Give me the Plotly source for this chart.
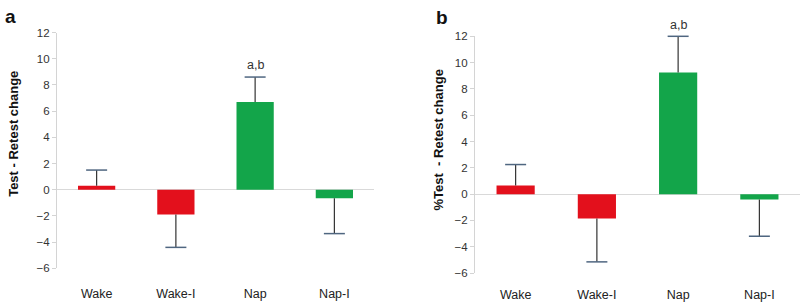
import plotly.graph_objects as go

categories = ["Wake", "Wake-I", "Nap", "Nap-I"]
bar_colors = ["#e3101c", "#e3101c", "#13a54a", "#13a54a"]

# Panel a: Test - Retest change
a_values = [0.3, -1.9, 6.7, -0.65]
a_errors = [1.2, 2.5, 1.9, 2.7]
# Panel b: % Test - Retest change
b_values = [0.65, -1.85, 9.25, -0.4]
b_errors = [1.6, 3.3, 2.75, 2.8]

sig_label = "a,b"
a_sig_y = 9.5

y_ticks = [-6, -4, -2, 0, 2, 4, 6, 8, 10, 12]

STEM = "#333333"
CAP = "#4f6680"

fig = go.Figure()

def add_panel(vals, errs, xa, ya):
    fig.add_trace(go.Bar(x=categories, y=vals, marker=dict(color=bar_colors, line=dict(width=0)),
                         width=0.47, xaxis=xa, yaxis=ya, showlegend=False))
    sx, sy, cx, cy = [], [], [], []
    for c, v, e in zip(categories, vals, errs):
        tip = v + e if v >= 0 else v - e
        sx += [c, c, None]
        sy += [v, tip, None]
        cx.append(c)
        cy.append(tip)
    fig.add_trace(go.Scatter(x=sx, y=sy, mode="lines", line=dict(color=STEM, width=1.2),
                             xaxis=xa, yaxis=ya, showlegend=False, cliponaxis=False))
    fig.add_trace(go.Scatter(x=cx, y=cy, mode="markers",
                             marker=dict(symbol="line-ew", size=15, line=dict(color=CAP, width=1.5)),
                             xaxis=xa, yaxis=ya, showlegend=False, cliponaxis=False))

add_panel(a_values, a_errors, "x", "y")
add_panel(b_values, b_errors, "x2", "y2")

tickfont = dict(family="Liberation Sans, Arial", size=11.5, color="#333333")
catfont = dict(family="Liberation Sans, Arial", size=12.5, color="#222222")

xcommon = dict(showline=False, showgrid=False, zeroline=False, ticks="outside",
               tickcolor="rgba(0,0,0,0)", tickfont=catfont, fixedrange=True)
ycommon = dict(range=[-6, 12], tickvals=y_ticks, showgrid=False, zeroline=True,
               zerolinecolor="#d9d9d9", zerolinewidth=1.2, showline=True, linecolor="#d4d4d4",
               linewidth=1.2, ticks="outside", ticklen=4, tickcolor="#d4d4d4",
               tickfont=tickfont, fixedrange=True)

def ann(text, x, y, xref, yref, size, color, angle=0):
    return dict(text=text, x=x, y=y, xref=xref, yref=yref, showarrow=False,
                xanchor="center", yanchor="middle", textangle=angle,
                font=dict(family="Liberation Sans, Arial", size=size, color=color))

fig.update_layout(
    width=800, height=302,
    margin=dict(l=0, r=0, t=0, b=0),
    paper_bgcolor="white", plot_bgcolor="white",
    bargap=0.5,
    xaxis=dict(domain=[57/800, 374/800], anchor="y", ticklen=14, **xcommon),
    yaxis=dict(domain=[1-277/302, 1-28/302], anchor="x", **ycommon),
    xaxis2=dict(domain=[475/800, 800/800], anchor="y2", ticklen=10, **xcommon),
    yaxis2=dict(domain=[1-282/302, 1-32/302], anchor="x2", **ycommon),
    annotations=[
        ann(sig_label, "Nap", a_sig_y, "x", "y", 12.5, "#333333"),
        ann(sig_label, "Nap", 1-20/302, "x2", "paper", 12.5, "#333333"),
        ann("<b>Test - Retest change</b>", 14/800, 1-135/302, "paper", "paper", 13, "#111111", -90),
        ann("<b>%Test  - Retest change</b>", 438/800, 1-142/302, "paper", "paper", 13, "#111111", -90),
        ann("<b>a</b>", 10/800, 1-11/302, "paper", "paper", 19, "#111111"),
        ann("<b>b</b>", 442/800, 1-12/302, "paper", "paper", 19, "#111111"),
    ],
)

fig.write_html("out.html")
